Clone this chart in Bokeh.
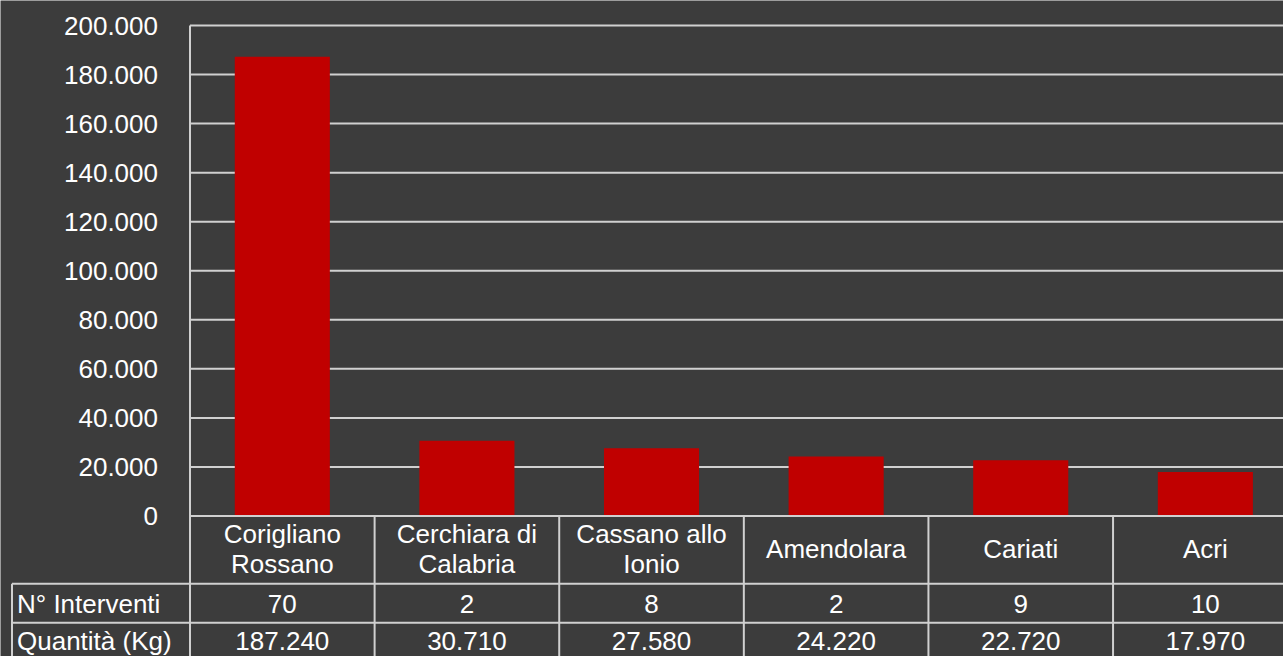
from bokeh.plotting import figure
from bokeh.models import Range1d, ColumnDataSource
from bokeh.core.properties import value
from bokeh.embed import file_html
from bokeh.resources import INLINE

# ---------------- data ----------------
categories = ["Corigliano Rossano", "Cerchiara di Calabria", "Cassano allo Ionio",
              "Amendolara", "Cariati", "Acri"]
category_lines = [["Corigliano", "Rossano"], ["Cerchiara di", "Calabria"],
                  ["Cassano allo", "Ionio"], ["Amendolara"], ["Cariati"], ["Acri"]]
quantita_kg = [187240, 30710, 27580, 24220, 22720, 17970]
n_interventi = [70, 2, 8, 2, 9, 10]
y_ticks = [0, 20000, 40000, 60000, 80000, 100000, 120000, 140000, 160000, 180000, 200000]
row_labels = ["N° Interventi", "Quantità (Kg)"]


def fmt(v):
    return f"{v:,}".replace(",", ".")


# ---------------- layout ----------------
BG = "#3c3c3c"
BAR = "#c00000"
LINE = "#d0d0d0"
TXT = "#ffffff"
FONT = value("Liberation Sans")
FS = value("26px")

W, H = 1283, 656
OFF = 0
PX_X0 = 189.5          # page px of category-axis origin
PX_PER_CAT = 184.61
PX_Y0 = 515.5          # page px of value 0
PX_PER_VAL = 2.4525 / 1000.0


def dx(px):
    return (px - PX_X0) / PX_PER_CAT


def dy(px):
    return (PX_Y0 - px) / PX_PER_VAL


n = len(categories)
x_end = dx(OFF + W)
y_bottom = dy(OFF + H)

p = figure(width=W, height=H,
           x_range=Range1d(dx(OFF), x_end), y_range=Range1d(y_bottom, dy(OFF)),
           x_axis_type=None, y_axis_type=None,
           output_backend="svg", toolbar_location=None,
           min_border=0, min_border_left=0, min_border_right=0,
           min_border_top=0, min_border_bottom=0,
           background_fill_color=BG, border_fill_color=BG,
           outline_line_color=None)
p.grid.visible = False

# gridlines (value axis)
p.segment(x0=[0] * len(y_ticks), x1=[x_end + 1] * len(y_ticks), y0=y_ticks, y1=y_ticks,
          line_color=LINE, line_width=2)

# bars
src = ColumnDataSource(dict(x=[i + 0.5 for i in range(n)], top=quantita_kg))
p.vbar(x="x", top="top", bottom=0, width=0.515, source=src,
       fill_color=BAR, line_color=None)

# axis line at 0 (over bars)
p.segment(x0=[0], x1=[x_end + 1], y0=[0], y1=[0], line_color=LINE, line_width=2)

# y tick labels
p.text(x=[dx(157.5)] * len(y_ticks), y=[t for t in y_ticks],
       text=[fmt(t) for t in y_ticks], text_align="right", text_baseline="middle",
       text_color=TXT, text_font=FONT, text_font_size=FS)

# table lines
row1 = dy(583.3)
row2 = dy(622.3)
left = dx(11.5)
vx = list(range(n + 1))
vy0 = [y_ticks[-1]] + [0] * n
p.segment(x0=vx, x1=vx, y0=vy0, y1=[y_bottom - 10000] * (n + 1),
          line_color=LINE, line_width=2)
p.segment(x0=[left, left], x1=[x_end + 1, x_end + 1], y0=[row1, row2], y1=[row1, row2],
          line_color=LINE, line_width=2)
p.segment(x0=[left], x1=[left], y0=[row1], y1=[y_bottom - 10000],
          line_color=LINE, line_width=2)

# category labels
cx, cy, ct = [], [], []
for i, lines in enumerate(category_lines):
    if len(lines) == 1:
        ys = [548.5]
    else:
        ys = [533.5, 563.5]
    for t, yy in zip(lines, ys):
        cx.append(i + 0.5)
        cy.append(dy(yy))
        ct.append(t)
p.text(x=cx, y=cy, text=ct, text_align="center", text_baseline="middle",
       text_color=TXT, text_font=FONT, text_font_size=FS)

# table row labels
p.text(x=[dx(16.5)] * 2, y=[dy(603), dy(640)], text=row_labels,
       text_align="left", text_baseline="middle",
       text_color=TXT, text_font=FONT, text_font_size=FS)

# table values
p.text(x=[i + 0.5 for i in range(n)], y=[dy(603)] * n, text=[str(v) for v in n_interventi],
       text_align="center", text_baseline="middle",
       text_color=TXT, text_font=FONT, text_font_size=FS)
p.text(x=[i + 0.5 for i in range(n)], y=[dy(640)] * n, text=[fmt(v) for v in quantita_kg],
       text_align="center", text_baseline="middle",
       text_color=TXT, text_font=FONT, text_font_size=FS)

open("out.html", "w").write(file_html(p, INLINE))
